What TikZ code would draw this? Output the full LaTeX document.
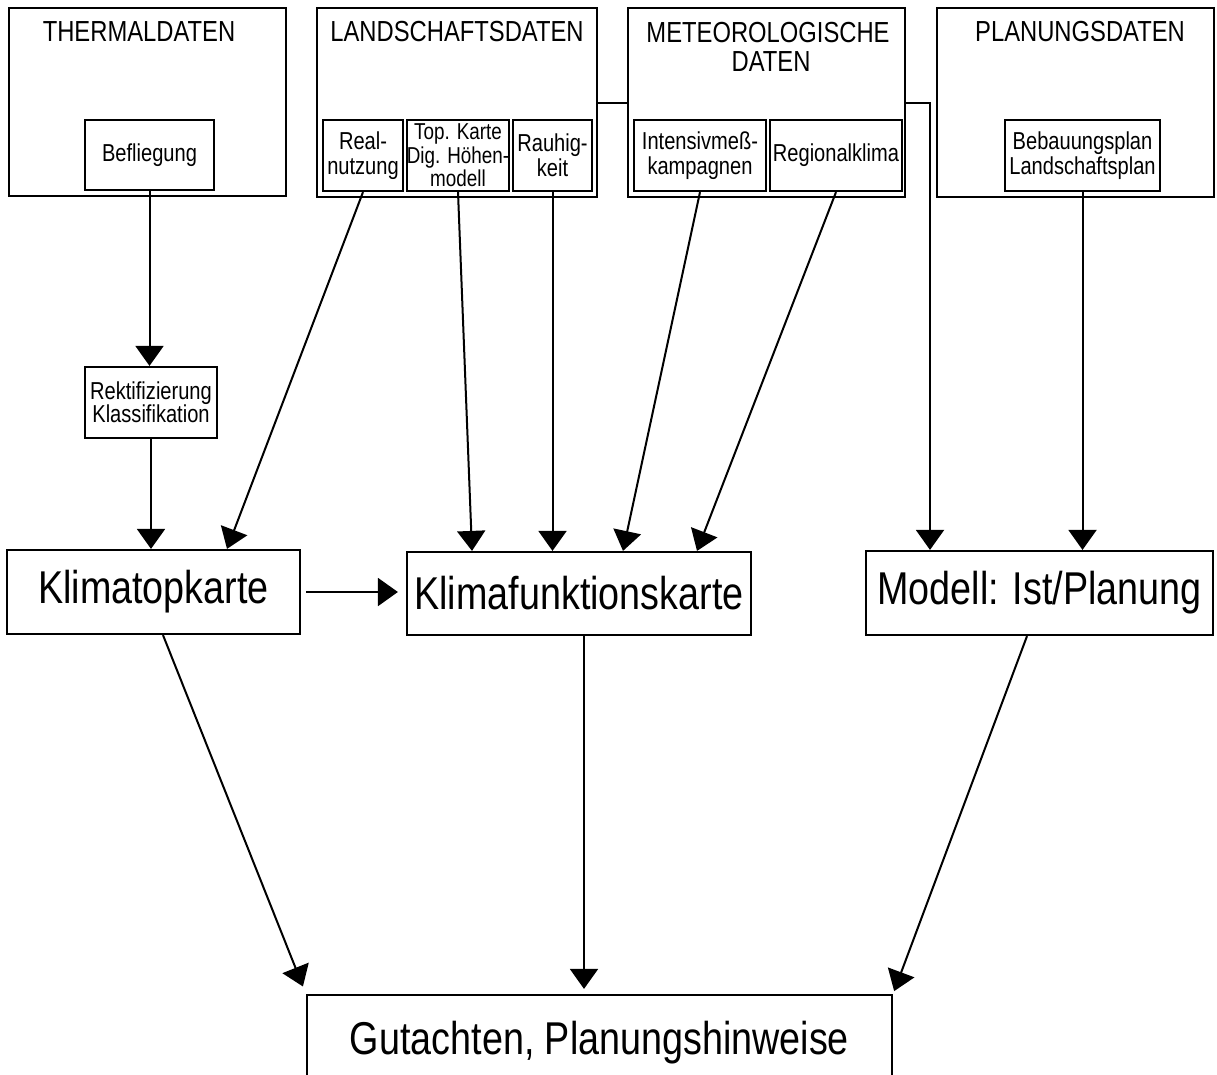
\documentclass[tikz,border=0pt]{standalone}
\usepackage{fontspec}
\setmainfont{Liberation Sans}[FakeStretch=0.82]
\usetikzlibrary{arrows.meta}
\begin{document}
\begin{tikzpicture}[x=1pt,y=-1pt,
  box/.style={draw,line width=2.2pt,inner sep=0pt,align=center},
  big/.style={font=\fontsize{46}{50}\selectfont},
  small/.style={font=\fontsize{24.5}{25}\selectfont},
  ttl/.style={font=\fontsize{29}{30}\selectfont,inner sep=0pt,anchor=base},
  arr/.style={line width=2pt,-{Triangle[length=20pt,width=28pt]}},
  con/.style={line width=2pt}]
\useasboundingbox (0,0) rectangle (1217,1074);
\clip (0,0) rectangle (1217,1074);
% outer group boxes
\node[box,minimum width=277pt,minimum height=188pt] (therm) at (147.5,102) {};
\node[box,minimum width=280pt,minimum height=189pt] (land) at (457,102.5) {};
\node[box,minimum width=277pt,minimum height=189pt] (meteo) at (766.5,102.5) {};
\node[box,minimum width=277pt,minimum height=189pt] (plan) at (1075.5,102.5) {};
% titles
\node[ttl] (thermT) at (139,41) {THERMALDATEN};
\node[ttl] (landT) at (457,41) {LANDSCHAFTSDATEN};
\node[ttl] (meteoT) at (768,42) {METEOROLOGISCHE};
\node[ttl] (meteoT2) at (771,71) {DATEN};
\node[ttl] (planT) at (1080,41) {PLANUNGSDATEN};
% inner boxes
\node[box,small,minimum width=129pt,minimum height=70pt] (befl) at (149.5,155) {Befliegung};
\node[box,small,minimum width=80pt,minimum height=71pt] (real) at (363,155.5) {Real-\\nutzung};
\node[box,font=\fontsize{23}{23.5}\selectfont,minimum width=102pt,minimum height=71pt] (topk) at (458,155.5) {Top. Karte\\Dig. Höhen-\\modell};
\node[box,small,minimum width=79pt,minimum height=71pt] (rauh) at (552.5,155.5) {Rauhig-\\keit};
\node[box,small,minimum width=132pt,minimum height=71pt] (inte) at (700,155.5) {Intensivmeß-\\kampagnen};
\node[box,small,minimum width=132pt,minimum height=71pt] (regio) at (836,155.5) {Regionalklima};
\node[box,small,minimum width=155pt,minimum height=71pt] (bebau) at (1082.5,155.5) {Bebauungsplan\\Landschaftsplan};
\node[box,font=\fontsize{24.5}{23}\selectfont,minimum width=132pt,minimum height=71pt] (rekt) at (151,402.5) {Rektifizierung\\Klassifikation};
% main boxes
\node[box,big,minimum width=293pt,minimum height=84pt] (klimatop) at (153.5,592) {Klimatopkarte};
\node[box,big,minimum width=344pt,minimum height=83pt] (klimafkt) at (579,593.5) {Klimafunktionskarte};
\node[box,big,minimum width=347pt,minimum height=84pt] (modell) at (1039.5,593) {Modell: Ist/Planung};
\node[box,big,minimum width=585pt,minimum height=95pt] (gut) at (599.5,1042.5) {Gutachten, Planungshinweise};
% connectors
\draw[arr] (befl.south) -- (befl.south |- rekt.north);
\draw[arr] (rekt.south) -- (rekt.south |- klimatop.north);
\draw[arr] (real.south) -- (227,0 |- klimatop.north);
\draw[arr] (topk.south) -- (472,0 |- klimafkt.north);
\draw[arr] (rauh.south) -- (rauh.south |- klimafkt.north);
\draw[arr] (inte.south) -- (623,0 |- klimafkt.north);
\draw[arr] (regio.south) -- (697,0 |- klimafkt.north);
\draw[con] (land.east) -- (meteo.west);
\draw[arr] (meteo.east) -| (930,0 |- modell.north);
\draw[arr] (bebau.south) -- (bebau.south |- modell.north);
\draw[arr,shorten <=5pt,shorten >=8pt] (klimatop.east) -- (klimatop.east -| klimafkt.west);
\draw[arr,shorten >=8pt] (163,0 |- klimatop.south) -- (gut.north west);
\draw[arr,shorten >=5pt] (584,0 |- klimafkt.south) -- (584,0 |- gut.north);
\draw[arr,shorten >=3pt] (1027,0 |- modell.south) -- (gut.north east);
\end{tikzpicture}
\end{document}
